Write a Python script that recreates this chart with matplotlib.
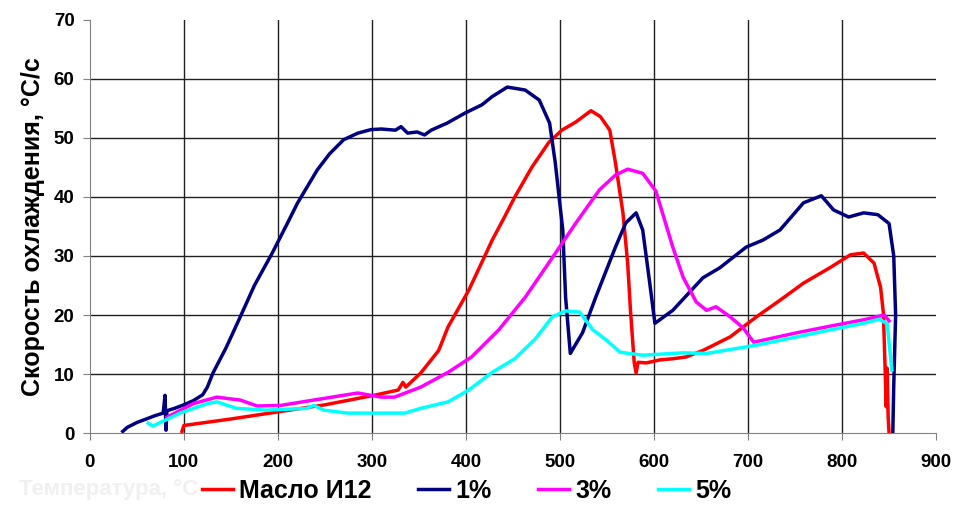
import matplotlib
matplotlib.use("Agg")
import matplotlib.pyplot as plt


# ========================================
# DATA
# ========================================
oil_t = [98, 100, 150, 200, 250, 302, 328, 333, 336, 352, 371, 381,
         403, 428, 441, 452, 470, 488, 502, 517, 533, 543, 553, 559,
         567, 572, 575, 579, 581, 583, 592, 606, 620, 634, 652, 681,
         709, 734, 759, 788, 809, 823, 834, 841, 844, 846, 847, 848,
         849, 850]
oil_v = [0.3, 1.3, 2.4, 3.6, 4.8, 6.4, 7.3, 8.6, 7.8, 10.2, 14.0, 18.0,
         24.2, 32.7, 36.6, 40.0, 45.0, 49.2, 51.3, 52.7, 54.6, 53.6, 51.3, 45.8,
         37.3, 28.8, 20.8, 11.9, 10.2, 12.0, 11.9, 12.4, 12.6, 12.9, 14.0, 16.3,
         19.7, 22.5, 25.4, 28.1, 30.2, 30.5, 28.8, 24.7, 20.3, 10.0, 4.5, 11.0,
         3.0, 0.0]

p1_t = [35, 40, 50, 60, 70, 78, 80, 81, 82, 90, 100, 110, 120, 125,
        131, 145, 160, 175, 194, 210, 221, 242, 255, 270, 285, 299, 310,
        325, 331, 338, 348, 356, 363, 380, 399, 417, 428, 444, 463, 478,
        489, 495, 503, 506, 511, 524, 538, 559, 570, 581, 588, 595, 601,
        620, 652, 670, 698, 716, 734, 759, 778, 791, 807, 823, 838, 850,
        855, 857, 855, 854]
p1_v = [0.3, 1.0, 1.8, 2.4, 3.0, 3.4, 6.4, 0.5, 3.8, 4.2, 4.8, 5.5, 6.5, 7.8,
        10.2, 14.5, 19.7, 25.0, 30.5, 35.5, 39.0, 44.6, 47.3, 49.7, 50.8, 51.4, 51.5,
        51.3, 51.9, 50.8, 51.0, 50.5, 51.3, 52.5, 54.2, 55.6, 57.0, 58.6, 58.1, 56.4,
        52.5, 45.8, 34.4, 23.0, 13.5, 17.0, 23.0, 31.5, 35.6, 37.3, 34.4, 26.0, 18.6,
        20.8, 26.3, 28.0, 31.5, 32.7, 34.4, 39.0, 40.2, 37.8, 36.6, 37.3, 37.0, 35.5,
        30.0, 20.0, 8.0, 0.0]

p3_t = [82, 110, 135, 160, 178, 203, 238, 285, 310, 324, 352, 381,
        406, 435, 463, 488, 517, 542, 559, 572, 588, 602, 609, 620,
        631, 645, 656, 666, 681, 695, 706, 752, 790, 823, 845, 850]
p3_v = [2.7, 5.0, 6.1, 5.6, 4.6, 4.7, 5.6, 6.8, 6.1, 6.1, 7.8, 10.3,
        12.9, 17.5, 23.0, 28.8, 35.6, 41.2, 43.7, 44.7, 44.0, 41.0, 37.3, 31.5,
        26.4, 22.2, 20.8, 21.4, 19.7, 17.8, 15.4, 17.0, 18.2, 19.2, 20.0, 19.0]

p5_t = [62, 67, 96, 125, 135, 156, 188, 231, 238, 249, 274, 310,
        335, 352, 381, 403, 428, 452, 474, 492, 506, 521, 535, 549,
        564, 588, 631, 656, 709, 752, 791, 823, 840, 848, 853]
p5_v = [1.7, 1.2, 3.4, 5.0, 5.3, 4.2, 3.9, 4.2, 4.7, 3.9, 3.4, 3.4,
        3.4, 4.2, 5.3, 7.3, 10.3, 12.6, 16.0, 19.7, 20.7, 20.5, 17.5, 15.8,
        13.7, 13.2, 13.6, 13.5, 14.9, 16.3, 17.6, 18.6, 19.3, 18.5, 10.7]

series = [
    (oil_t, oil_v, "Масло И12", "#ff0000"),
    (p1_t, p1_v, "1%", "#000080"),
    (p3_t, p3_v, "3%", "#ff00ff"),
    (p5_t, p5_v, "5%", "#00ffff"),
]

x_ticks = [0, 100, 200, 300, 400, 500, 600, 700, 800, 900]
y_ticks = [0, 10, 20, 30, 40, 50, 60, 70]


# ========================================
# FIGURE
# ========================================
plt.rcParams["font.family"] = ["Liberation Sans", "DejaVu Sans"]

fig = plt.figure(figsize=(9.66, 5.2), dpi=100)
ax = fig.add_axes([0.093, 0.167, 0.876, 0.795])

for t, v, name, color in series:
    ax.plot(
        t,
        v,
        color=color,
        linewidth=2.5,
        label=name,
        solid_joinstyle="round"
    )

ax.set_xlim(0, 900)
ax.set_ylim(0, 70)
ax.set_xticks(x_ticks)
ax.set_yticks(y_ticks)

# grid lines only inside the plot (no top / right border)
for gx in x_ticks[1:-1]:
    ax.axvline(gx, color="#202020", linewidth=1.0, zorder=0)
for gy in y_ticks[1:-1]:
    ax.axhline(gy, color="#202020", linewidth=1.0, zorder=0)

ax.spines["top"].set_visible(False)
ax.spines["right"].set_visible(False)
ax.spines["left"].set_color("#808080")
ax.spines["bottom"].set_color("#808080")

ax.tick_params(
    axis="both",
    direction="out",
    length=5,
    color="#808080",
    labelsize=13.5
)
ax.tick_params(axis="x", pad=10)
ax.tick_params(axis="y", pad=6)
for lbl in ax.get_xticklabels() + ax.get_yticklabels():
    lbl.set_fontweight("bold")

ax.set_ylabel(
    "Скорость охлаждения, °С/с",
    fontsize=18,
    fontweight="bold",
    labelpad=6
)

# faded axis title left in the original picture
fig.text(
    0.02,
    0.058,
    "Температура, °С",
    fontsize=16,
    fontweight="bold",
    color="#f0f0f0",
    va="center"
)

fig.legend(
    loc="center",
    bbox_to_anchor=(0.483, 0.056),
    ncol=4,
    frameon=False,
    handlelength=1.25,
    handletextpad=0.25,
    columnspacing=1.85,
    prop={"size": 18, "weight": "bold"}
)

fig.savefig("out.png", dpi=100)
